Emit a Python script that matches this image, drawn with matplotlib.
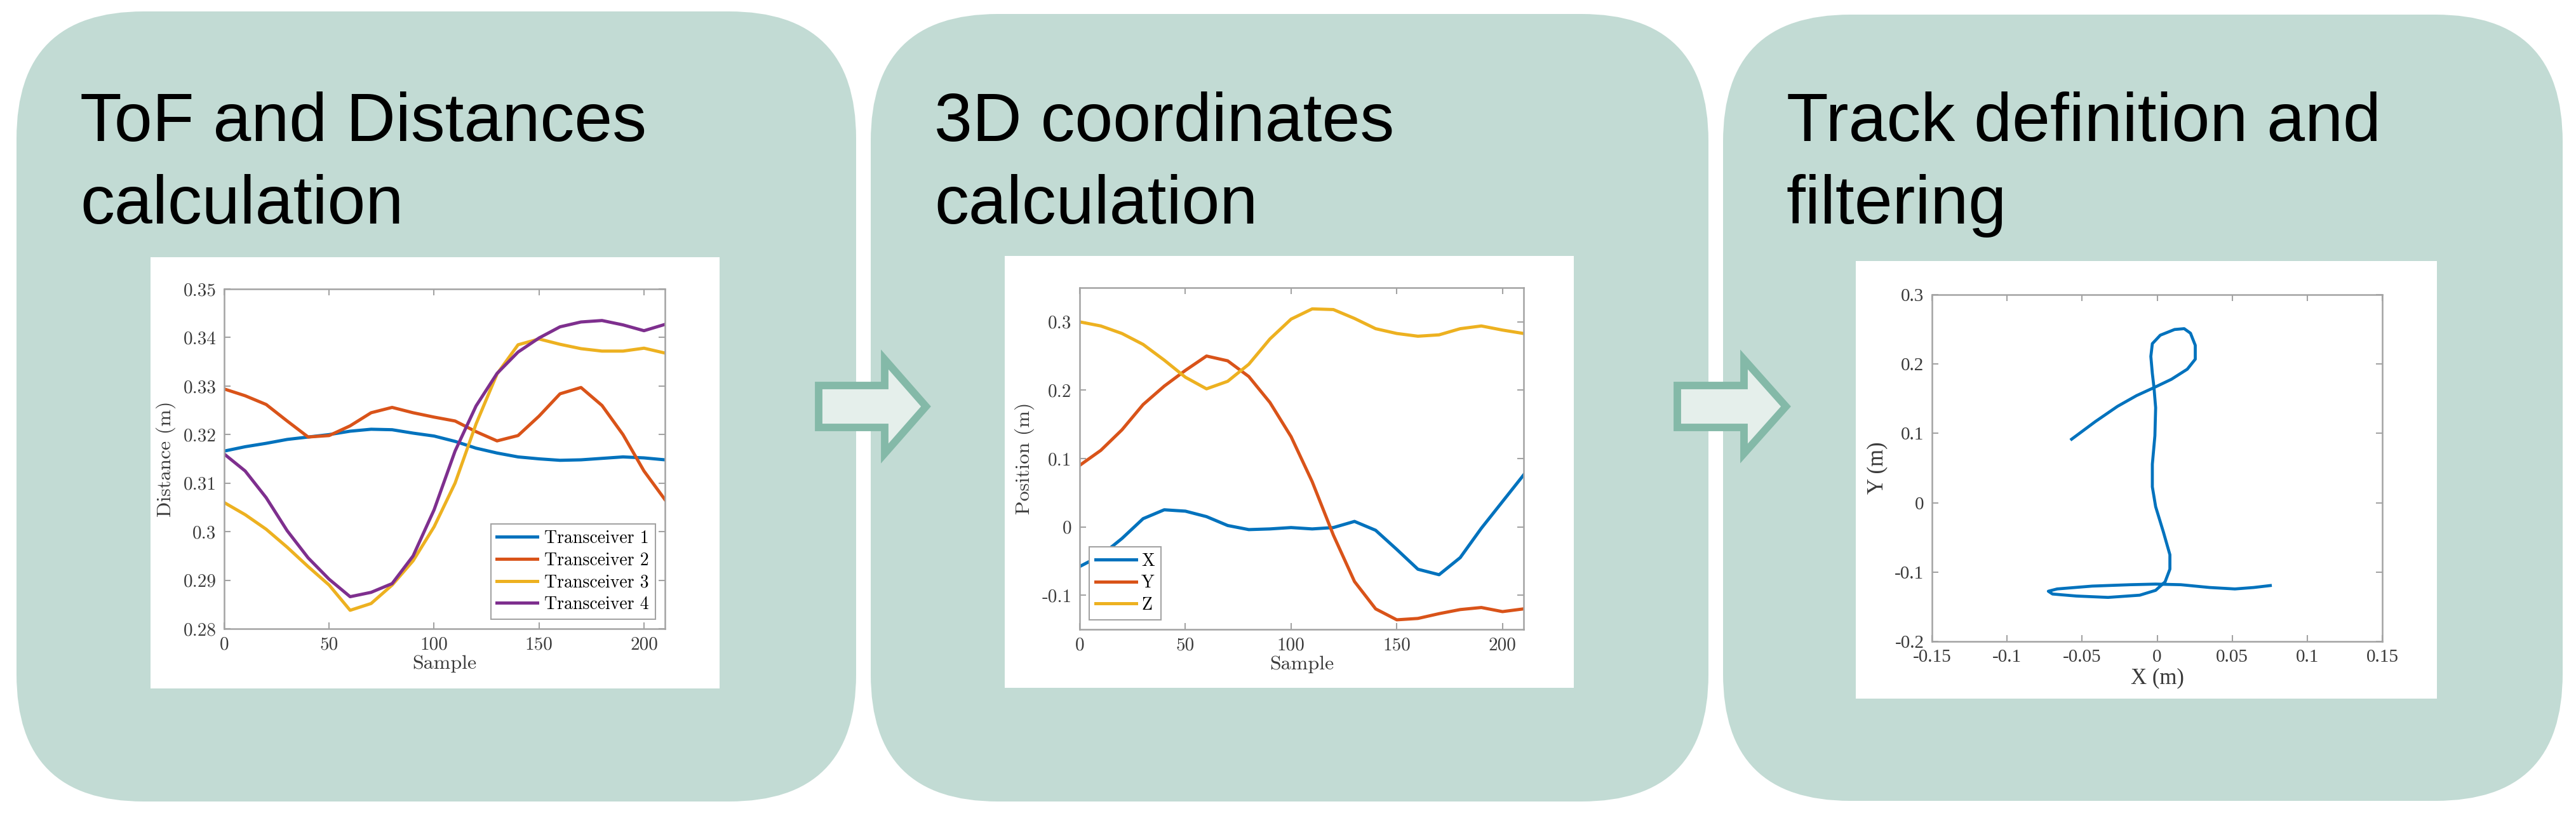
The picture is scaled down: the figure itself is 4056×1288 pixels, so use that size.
import matplotlib
matplotlib.use("Agg")
import matplotlib.pyplot as plt
import numpy as np
from matplotlib.patches import FancyBboxPatch, Rectangle, Polygon

# ---- data ----
samples = [0, 10, 20, 30, 40, 50, 60, 70, 80, 90, 100,
           110, 120, 130, 140, 150, 160, 170, 180, 190, 200, 210]

trx1 = [0.3166, 0.3175, 0.3182, 0.3190, 0.3195, 0.3200, 0.3207, 0.3211, 0.3210, 0.3203, 0.3197,
        0.3186, 0.3172, 0.3162, 0.3154, 0.3150, 0.3147, 0.3148, 0.3151, 0.3154, 0.3152, 0.3148]
trx2 = [0.3294, 0.3280, 0.3262, 0.3228, 0.3195, 0.3198, 0.3218, 0.3245, 0.3256, 0.3245, 0.3236,
        0.3228, 0.3206, 0.3187, 0.3198, 0.3238, 0.3284, 0.3297, 0.3260, 0.3200, 0.3125, 0.3066]
trx3 = [0.3060, 0.3035, 0.3005, 0.2968, 0.2928, 0.2890, 0.2838, 0.2852, 0.2890, 0.2940, 0.3010,
        0.3100, 0.3222, 0.3325, 0.3385, 0.3397, 0.3386, 0.3377, 0.3372, 0.3372, 0.3378, 0.3368]
trx4 = [0.3160, 0.3125, 0.3070, 0.3002, 0.2946, 0.2902, 0.2866, 0.2875, 0.2893, 0.2950, 0.3045,
        0.3166, 0.3259, 0.3326, 0.3370, 0.3399, 0.3422, 0.3432, 0.3435, 0.3426, 0.3414, 0.3427]
trx_labels = ["Transceiver 1", "Transceiver 2", "Transceiver 3", "Transceiver 4"]

pos_x = [-0.058, -0.042, -0.017, 0.012, 0.025, 0.023, 0.015, 0.002, -0.004, -0.003, -0.001,
         -0.003, -0.001, 0.008, -0.005, -0.033, -0.062, -0.070, -0.045, -0.002, 0.037, 0.076]
pos_y = [0.090, 0.112, 0.142, 0.179, 0.206, 0.229, 0.250, 0.243, 0.220, 0.182, 0.132,
         0.066, -0.012, -0.080, -0.120, -0.136, -0.134, -0.127, -0.121, -0.118, -0.124, -0.120]
pos_z = [0.300, 0.294, 0.283, 0.267, 0.244, 0.219, 0.202, 0.213, 0.238, 0.275, 0.304,
         0.319, 0.318, 0.305, 0.290, 0.283, 0.279, 0.281, 0.290, 0.294, 0.288, 0.283]
pos_labels = ["X", "Y", "Z"]

track_x = [-0.057, -0.0412, -0.0264, -0.0137, -0.0021, 0.0095, 0.0201, 0.0254, 0.0254, 0.0222,
           0.018, 0.0116, 0.0021, -0.0032, -0.0042, -0.0032, -0.0021, -0.001, -0.0015, -0.0032,
           -0.0032, -0.001, 0.0042, 0.0085, 0.0085, 0.0053, -0.001, -0.0116, -0.0327, -0.0539,
           -0.0697, -0.0725, -0.0666, -0.0433, -0.018, -0.001, 0.0158, 0.0349, 0.0518, 0.0644, 0.0754]
track_y = [0.0916, 0.117, 0.139, 0.1545, 0.166, 0.178, 0.1926, 0.207, 0.227, 0.2445,
           0.251, 0.2498, 0.2416, 0.2294, 0.211, 0.1864, 0.166, 0.137, 0.0965, 0.0556,
           0.0229, -0.0057, -0.0425, -0.075, -0.0957, -0.114, -0.1263, -0.1333, -0.1365, -0.1345,
           -0.1316, -0.1276, -0.1243, -0.1202, -0.1182, -0.1173, -0.1182, -0.1222, -0.1243, -0.1222, -0.1194]

titles = [("ToF and Distances", "calculation"),
          ("3D coordinates", "calculation"),
          ("Track definition and", "filtering")]

# ---- styling ----
W, H = 4056, 1288
PANEL = "#c2dbd4"
ARROW_EDGE = "#84b9a8"
ARROW_FILL = "#e5efeb"
MATLAB = ["#0072BD", "#D95319", "#EDB120", "#7E2F8E"]
AXIS_GREY = "#a3a3a3"
TXT = "#3a3a3a"
plt.rcParams["axes.unicode_minus"] = False

fig = plt.figure(figsize=(W / 100, H / 100), dpi=100)
bg = fig.add_axes([0, 0, 1, 1])
bg.set_xlim(0, W)
bg.set_ylim(H, 0)
bg.axis("off")

# rounded panels (x0, x1, y0, y1 in pixels)
panels = [(26, 1348, 18, 1262), (1371, 2690, 22, 1262), (2713, 4035, 23, 1261)]
for x0, x1, y0, y1 in panels:
    bg.add_patch(FancyBboxPatch((x0, y0), x1 - x0, y1 - y0,
                                boxstyle="round,pad=0,rounding_size=200",
                                facecolor=PANEL, edgecolor="none"))

for (x0, x1, y0, y1), (line1, line2) in zip(panels, titles):
    for yb, txt in [(222, line1), (352, line2)]:
        bg.text(x0 + 100, yb, txt, fontsize=77.5, family="Liberation Sans",
                va="baseline", ha="left", color="black")

# white picture boxes
boxes = [(237, 1133, 405, 1084), (1582, 2478, 403, 1083), (2922, 3837, 411, 1100)]
for x0, x1, y0, y1 in boxes:
    bg.add_patch(Rectangle((x0, y0), x1 - x0, y1 - y0, facecolor="white", edgecolor="none"))

# block arrows between panels
for xs, xb, xt in [(1289, 1393, 1458), (2641, 2746, 2812)]:
    yc = 640
    pts = [(xs, yc - 33), (xb, yc - 33), (xb, yc - 74), (xt, yc),
           (xb, yc + 74), (xb, yc + 33), (xs, yc + 33)]
    bg.add_patch(Polygon(pts, closed=True, facecolor=ARROW_FILL, edgecolor=ARROW_EDGE,
                         linewidth=8.5, joinstyle="miter", zorder=5))


def px_axes(x0, x1, y0, y1):
    return fig.add_axes([x0 / W, 1 - y1 / H, (x1 - x0) / W, (y1 - y0) / H])


def matlab_axes(ax, xt, yt, family):
    for s in ax.spines.values():
        s.set_color(AXIS_GREY)
        s.set_linewidth(1.8)
    ax.tick_params(direction="in", length=7, width=1.5, color=AXIS_GREY,
                   top=True, right=True, pad=9)
    ax.set_xticks(xt, [f"{v:g}" for v in xt], fontsize=21, family=family, color=TXT)
    ax.set_yticks(yt, [f"{v:g}" for v in yt], fontsize=21, family=family, color=TXT)


# panel 1: distances
ax1 = px_axes(353, 1047, 455, 990)
for vals, col, lab in zip([trx1, trx2, trx3, trx4], MATLAB, trx_labels):
    ax1.plot(samples, vals, color=col, lw=3.6, label=lab)
ax1.set_xlim(0, 210)
ax1.set_ylim(0.28, 0.35)
matlab_axes(ax1, [0, 50, 100, 150, 200], [round(v, 2) for v in np.arange(0.28, 0.351, 0.01)], "cmr10")
ax1.set_xlabel("Sample", fontsize=23, family="cmr10", color=TXT, labelpad=2)
ax1.set_ylabel("Distance (m)", fontsize=23, family="cmr10", color=TXT, labelpad=8)
leg = ax1.legend(loc="lower right", prop={"family": "cmr10", "size": 20}, fancybox=False,
                 edgecolor=AXIS_GREY, framealpha=1, borderaxespad=0.55, handlelength=2.3,
                 labelspacing=0.3, handletextpad=0.4, borderpad=0.35)
leg.get_frame().set_linewidth(1.5)

# panel 2: 3D coordinates
ax2 = px_axes(1700, 2399, 453, 991)
for vals, col, lab in zip([pos_x, pos_y, pos_z], MATLAB, pos_labels):
    ax2.plot(samples, vals, color=col, lw=3.6, label=lab)
ax2.set_xlim(0, 210)
ax2.set_ylim(-0.15, 0.35)
matlab_axes(ax2, [0, 50, 100, 150, 200], [-0.1, 0, 0.1, 0.2, 0.3], "cmr10")
ax2.set_xlabel("Sample", fontsize=23, family="cmr10", color=TXT, labelpad=2)
ax2.set_ylabel("Position (m)", fontsize=23, family="cmr10", color=TXT, labelpad=8)
leg = ax2.legend(loc="lower left", prop={"family": "cmr10", "size": 20}, fancybox=False,
                 edgecolor=AXIS_GREY, framealpha=1, borderaxespad=0.55, handlelength=2.3,
                 labelspacing=0.3, handletextpad=0.3, borderpad=0.35)
leg.get_frame().set_linewidth(1.5)

# panel 3: track
ax3 = px_axes(3042, 3751, 464, 1010)
ax3.plot(track_x, track_y, color=MATLAB[0], lw=3.4)
ax3.set_xlim(-0.15, 0.15)
ax3.set_ylim(-0.2, 0.3)
matlab_axes(ax3, [-0.15, -0.1, -0.05, 0, 0.05, 0.1, 0.15], [-0.2, -0.1, 0, 0.1, 0.2, 0.3],
            "Liberation Serif")
ax3.set_xlabel("X (m)", fontsize=25, family="Liberation Serif", color=TXT, labelpad=2)
ax3.set_ylabel("Y (m)", fontsize=25, family="Liberation Serif", color=TXT, labelpad=8)

fig.savefig("out.png", dpi=100, facecolor="white")
